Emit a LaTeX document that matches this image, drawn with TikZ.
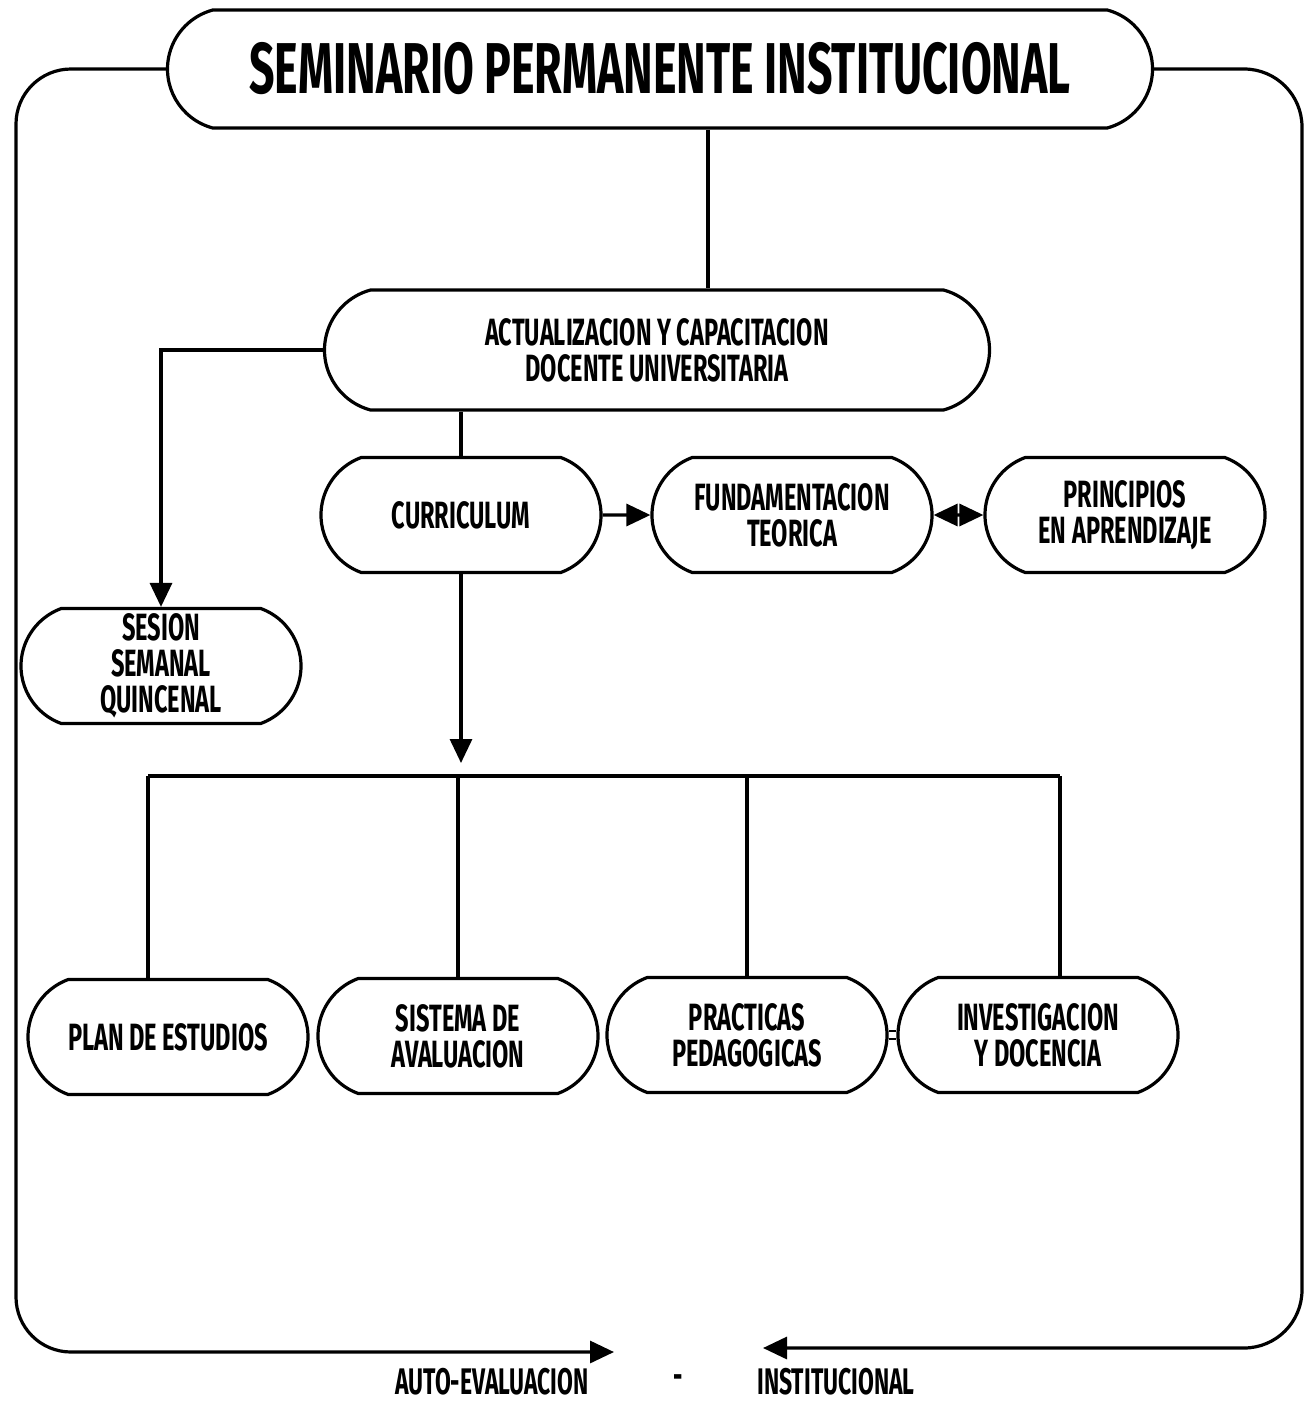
\documentclass[tikz,border=0pt]{standalone}
\usepackage{fontspec}
\setmainfont{Fira Sans}[FakeStretch=0.62]
\usetikzlibrary{shapes.misc,arrows.meta}
\begin{document}
\begin{tikzpicture}[x=1pt,y=-1pt,line width=3.2pt,
  txt/.style={font=\bfseries\fontsize{38}{36}\selectfont},
  box/.style={draw,rounded rectangle,rounded rectangle arc length=140,
    minimum width=280pt,minimum height=115pt,inner sep=0pt,align=center,txt},
  lbl/.style={inner sep=0pt,font=\bfseries\fontsize{37}{35}\selectfont},
  arr/.style={-{Triangle[length=24pt,width=22pt]}},
  dblarr/.style={{Triangle[length=24pt,width=22pt]}-{Triangle[length=24pt,width=22pt]}}]
\useasboundingbox (0,0) rectangle (1311,1406);

\node[box,rounded rectangle arc length=150,minimum width=985pt,minimum height=118pt,
  font=\bfseries\fontsize{72}{72}\selectfont] (title) at (660,69) {SEMINARIO PERMANENTE INSTITUCIONAL};
\node[box,rounded rectangle arc length=150,minimum width=665pt,minimum height=120pt] (act) at (657,350)
  {ACTUALIZACION Y CAPACITACION\\DOCENTE UNIVERSITARIA};
\node[box] (ses) at (161,666) {SESION\\SEMANAL\\QUINCENAL};
\node[box] (cur) at (461,515) {CURRICULUM};
\node[box] (fund) at (792,515) {FUNDAMENTACION\\TEORICA};
\node[box] (prin) at (1125,515) {PRINCIPIOS\\EN APRENDIZAJE};
\node[box] (plan) at (168,1037) {PLAN DE ESTUDIOS};
\node[box] (sis) at (458,1036) {SISTEMA DE\\AVALUACION};
\node[box] (prac) at (747,1035) {PRACTICAS\\PEDAGOGICAS};
\node[box] (inv) at (1038,1035) {INVESTIGACION\\Y DOCENCIA};

\node[lbl] (ae) at (492,1382) {AUTO-EVALUACION};
\node[lbl] (dash) at (678,1382) {-};
\node[lbl] (ins) at (836,1382) {INSTITUCIONAL};

\coordinate (aetip) at (614,1352);
\coordinate (instip) at (763,1348);
\coordinate (curtip) at (461,763);
\coordinate (b1) at (148,776);
\coordinate (b4) at (1060,776);

% outer loop
\draw[arr,rounded corners=55pt] (title.west) -| (16,1352) -- (aetip);
\draw[arr,rounded corners=58pt] (title.east) -| (1302,1348) -- (instip);

% connectors
\draw ([xshift=48pt]title.south) -- ([xshift=51pt]act.north);
\draw[arr] (act.west) -| (ses.north);
\draw (cur.north |- act.south) -- (cur.north);
\draw[arr] (cur) -- (fund);
\draw[dblarr] (fund) -- (prin);
\draw[arr] (cur.south) -- (curtip);
\draw (b1) -- (b4);
\draw (b1) -- (b1 |- plan.north);
\draw (sis.north |- b1) -- (sis.north);
\draw (prac.north |- b1) -- (prac.north);
\draw (b4) -- (b4 |- inv.north);
\draw[line width=2pt] ([yshift=4pt]prac.east) -- ([yshift=4pt]inv.west);
\draw[line width=2pt] ([yshift=-4pt]prac.east) -- ([yshift=-4pt]inv.west);
\end{tikzpicture}
\end{document}
